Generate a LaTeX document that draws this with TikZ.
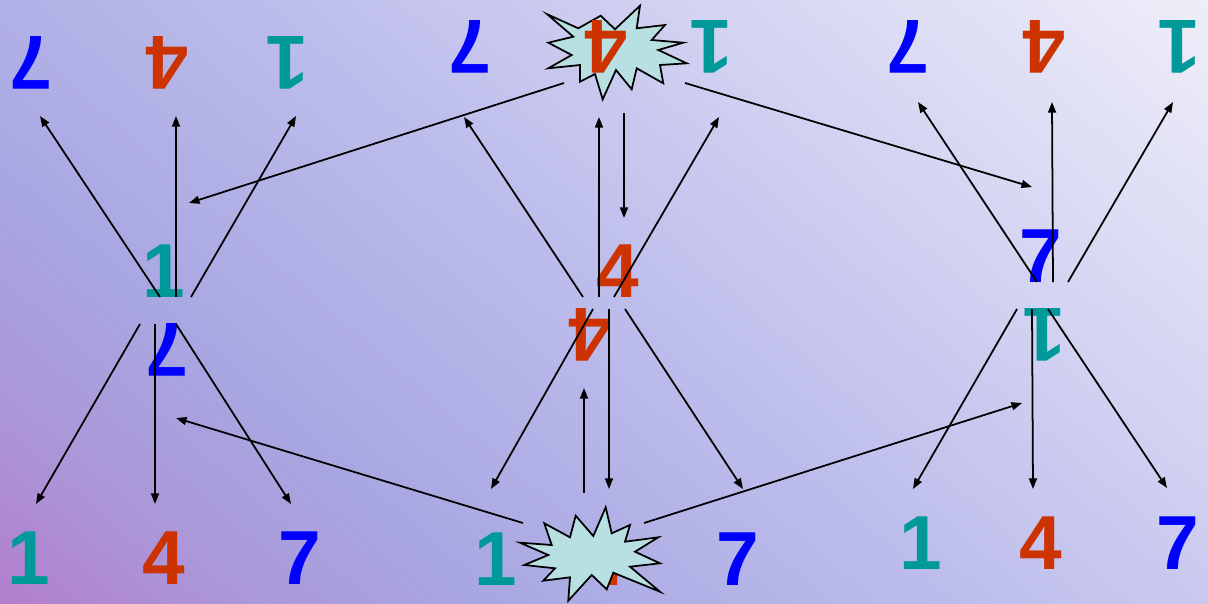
\documentclass[tikz,border=0pt]{standalone}
\usepackage{fontspec}
\setmainfont{Liberation Sans}
\usetikzlibrary{arrows.meta}
\definecolor{numone}{RGB}{0,153,153}
\definecolor{numfour}{RGB}{204,51,0}
\definecolor{numseven}{RGB}{0,0,255}
\definecolor{bgA}{RGB}{178,126,206}
\definecolor{bgB}{RGB}{171,150,216}
\definecolor{bgC}{RGB}{168,166,225}
\definecolor{bgD}{RGB}{188,188,236}
\definecolor{bgE}{RGB}{238,238,249}
\definecolor{burst}{RGB}{184,224,226}
\pgfdeclareverticalshading{bgfade}{100bp}{color(0bp)=(bgA); color(25bp)=(bgA); color(31bp)=(bgB);
  color(37.5bp)=(bgC); color(50bp)=(bgD); color(75bp)=(bgE); color(100bp)=(bgE)}
\tikzset{
  dig/.style  ={font=\fontsize{43.6}{48}\selectfont\bfseries, inner sep=0pt},
  one/.style  ={dig, text=numone},
  four/.style ={dig, text=numfour},
  seven/.style={dig, text=numseven},
  flip/.style ={rotate=180},
  arr/.style  ={draw=black, line width=1pt, -{Triangle[length=6pt,width=4.5pt]}},
  boom/.style ={draw=black, line width=1pt, fill=burst, line join=miter},
}

\begin{document}
\begin{tikzpicture}[x=0.02cm,y=-0.02cm]
  \useasboundingbox (0,0) rectangle (1208,603);
  \begin{scope}
    \clip (0,0) rectangle (1208,603);
    \shade[shading=bgfade,shading angle=-41] (-20,-322.5) rectangle (1228,925.5);
  \end{scope}
  % top row, upside down
  \node[seven,flip] (a7t) at (31,63) {7};
  \node[four,flip]  (a4t) at (167,63) {4};
  \node[one,flip]   (a1t) at (287,63) {1};
  \node[seven,flip] (b7t) at (470,47) {7};
  \node[one,flip]   (b1t) at (711,47) {1};
  \node[seven,flip] (c7t) at (908,47) {7};
  \node[four,flip]  (c4t) at (1044,47) {4};
  \node[one,flip]   (c1t) at (1179,47) {1};
  % middle pairs
  \node[one]        (a1m) at (164,271) {1};
  \node[seven,flip] (a7m) at (167,350) {7};
  \node[four]       (b4m) at (618,271) {4};
  \node[four,flip]  (b4f) at (590,335) {4};
  \node[seven]      (c7m) at (1041,256) {7};
  \node[one,flip]   (c1f) at (1044,335) {1};
  % bottom row
  \node[one]   (a1b) at (29,558) {1};
  \node[four]  (a4b) at (164,558) {4};
  \node[seven] (a7b) at (300,558) {7};
  \node[one]   (b1b) at (496,559) {1};
  \node[four]  (b4b) at (604,559) {4};
  \node[seven] (b7b) at (738,559) {7};
  \node[one]   (c1b) at (921,543) {1};
  \node[four]  (c4b) at (1041,543) {4};
  \node[seven] (c7b) at (1178,543) {7};
  % bursts
  \draw[boom] (547.3,14.3) -- (578.3,28.3) -- (600.7,15.7) -- (615,29.3) -- (640,5.7) -- (636.7,28.3)
    -- (665,25) -- (651.7,40) -- (683.3,42.7) -- (658.3,50) -- (686.7,63.3) -- (660,65)
    -- (663.3,83.3) -- (636.7,68.3) -- (631.7,89.3) -- (616,70) -- (602.7,99.3) -- (595,74)
    -- (580,81.7) -- (580,65) -- (548.3,68.3) -- (571.7,55) -- (548.3,42.7) -- (573.3,36.7) -- cycle;
  \node[four,flip] (b4t) at (606,47) {4};
  \draw[boom] (520,542.7) -- (551.7,545) -- (544.3,523.3) -- (570,537.3) -- (575.7,515.7) -- (593.3,536)
    -- (605.7,507.3) -- (611.7,533.3) -- (630,525) -- (625,541.7) -- (658.3,537.3) -- (635,551.7)
    -- (660,563.3) -- (630,566.7) -- (660,591.7) -- (613.3,572.7) -- (606.7,589.3) -- (591.7,575)
    -- (568.3,600.7) -- (570,577.3) -- (543.3,580.7) -- (555,568.3) -- (524.3,565) -- (548.3,555) -- cycle;
  % arrow ends
  \coordinate (au1) at (160,297);  \coordinate (au1e) at (40,116);
  \coordinate (au2) at (176,297);  \coordinate (au2e) at (176,116);
  \coordinate (au3) at (191,297);  \coordinate (au3e) at (296,116);
  \coordinate (ad1) at (140,324);  \coordinate (ad1e) at (36,504);
  \coordinate (ad2) at (155,324);  \coordinate (ad2e) at (155,504);
  \coordinate (ad3) at (176,324);  \coordinate (ad3e) at (291,504);
  \coordinate (bu1) at (583,297);  \coordinate (bu1e) at (464,117);
  \coordinate (bu2) at (599,297);  \coordinate (bu2e) at (599,117);
  \coordinate (bu3) at (614,297);  \coordinate (bu3e) at (719,117);
  \coordinate (bd1) at (593,309);  \coordinate (bd1e) at (491,489);
  \coordinate (bd2) at (609,309);  \coordinate (bd2e) at (609,489);
  \coordinate (bd3) at (625,309);  \coordinate (bd3e) at (743,489);
  \coordinate (cu1) at (1037,282); \coordinate (cu1e) at (918,102);
  \coordinate (cu2) at (1053,282); \coordinate (cu2e) at (1052,102);
  \coordinate (cu3) at (1068,282); \coordinate (cu3e) at (1173,102);
  \coordinate (cd1) at (1017,309); \coordinate (cd1e) at (913,489);
  \coordinate (cd2) at (1032,309); \coordinate (cd2e) at (1033,489);
  \coordinate (cd3) at (1048,309); \coordinate (cd3e) at (1167,488);
  \coordinate (ts1) at (564,83);   \coordinate (ts1e) at (189,203);
  \coordinate (ts2) at (685,83);   \coordinate (ts2e) at (1032,187);
  \coordinate (ts3) at (624,113);  \coordinate (ts3e) at (624,218);
  \coordinate (bs1) at (523,523);  \coordinate (bs1e) at (176,418);
  \coordinate (bs2) at (644,523);  \coordinate (bs2e) at (1022,403);
  \coordinate (bs3) at (584,493);  \coordinate (bs3e) at (584,388);
  % arrows
  \draw[arr] (au1) -- (au1e);
  \draw[arr] (au2) -- (au2e);
  \draw[arr] (au3) -- (au3e);
  \draw[arr] (ad1) -- (ad1e);
  \draw[arr] (ad2) -- (ad2e);
  \draw[arr] (ad3) -- (ad3e);
  \draw[arr] (bu1) -- (bu1e);
  \draw[arr] (bu2) -- (bu2e);
  \draw[arr] (bu3) -- (bu3e);
  \draw[arr] (bd1) -- (bd1e);
  \draw[arr] (bd2) -- (bd2e);
  \draw[arr] (bd3) -- (bd3e);
  \draw[arr] (cu1) -- (cu1e);
  \draw[arr] (cu2) -- (cu2e);
  \draw[arr] (cu3) -- (cu3e);
  \draw[arr] (cd1) -- (cd1e);
  \draw[arr] (cd2) -- (cd2e);
  \draw[arr] (cd3) -- (cd3e);
  \draw[arr] (ts1) -- (ts1e);
  \draw[arr] (ts2) -- (ts2e);
  \draw[arr] (ts3) -- (ts3e);
  \draw[arr] (bs1) -- (bs1e);
  \draw[arr] (bs2) -- (bs2e);
  \draw[arr] (bs3) -- (bs3e);
\end{tikzpicture}
\end{document}
